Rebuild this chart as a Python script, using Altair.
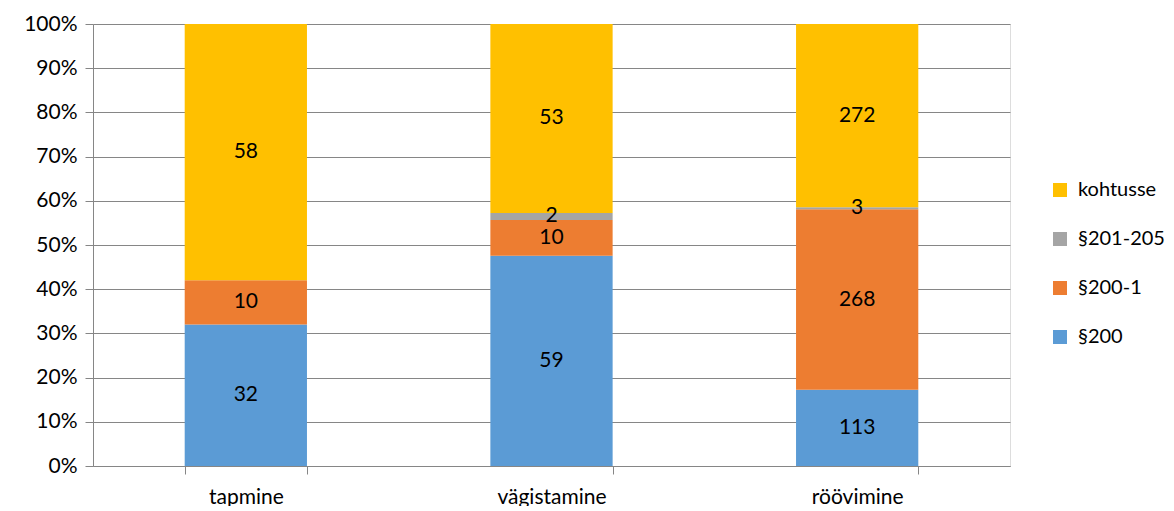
import altair as alt
import pandas as pd

categories = ["tapmine", "vägistamine", "röövimine"]
series = ["§200", "§200-1", "§201-205", "kohtusse"]
values = {
    "§200": [32, 59, 113],
    "§200-1": [10, 10, 268],
    "§201-205": [0, 2, 3],
    "kohtusse": [58, 53, 272],
}
colors = ["#5B9BD5", "#ED7D31", "#A5A5A5", "#FFC000"]
y_ticks = [0, 0.1, 0.2, 0.3, 0.4, 0.5, 0.6, 0.7, 0.8, 0.9, 1.0]

rows = []
for si, s in enumerate(series):
    for ci, c in enumerate(categories):
        rows.append({"cat": c, "series": s, "idx": si, "value": values[s][ci]})
df = pd.DataFrame(rows)

FONT = "Lato"
FS = 21
legend_order = list(reversed(series))
legend_colors = list(reversed(colors))

base = alt.Chart(df).transform_joinaggregate(
    total="sum(value)", groupby=["cat"]
).transform_calculate(
    pct="datum.value / datum.total"
).transform_stack(
    stack="pct", groupby=["cat"], as_=["y0", "y1"], sort=[alt.SortField("idx", order="ascending")]
).transform_calculate(
    mid="(datum.y0 + datum.y1) / 2"
)

x_enc = alt.X(
    "cat:N",
    sort=categories,
    title=None,
    scale=alt.Scale(paddingInner=0.6, paddingOuter=0.3),
    axis=alt.Axis(
        labelAngle=0, labelFontSize=FS, labelFont=FONT, labelColor="#000000",
        labelPadding=12, tickBand="extent", tickSize=8, tickColor="#868686",
        domainColor="#868686", grid=False,
    ),
)

bars = base.mark_bar().encode(
    x=x_enc,
    y=alt.Y(
        "y0:Q",
        scale=alt.Scale(domain=[0, 1], nice=False),
        title=None,
        axis=alt.Axis(
            values=y_ticks, format=".0%", labelFontSize=FS, labelFont=FONT,
            labelColor="#000000", labelPadding=8, tickSize=8, tickColor="#868686",
            domainColor="#868686", gridColor="#868686", gridWidth=1,
        ),
    ),
    y2="y1:Q",
    color=alt.Color(
        "series:N",
        scale=alt.Scale(domain=legend_order, range=legend_colors),
        legend=alt.Legend(
            title=None, orient="none", legendX=957, legendY=156,
            labelFontSize=20, labelFont=FONT, labelColor="#000000",
            symbolType="square", symbolSize=196, symbolStrokeWidth=0,
            rowPadding=29, labelOffset=8, padding=0, labelLimit=200,
        ),
    ),
    order=alt.Order("idx:Q"),
)

labels = base.transform_filter("datum.value > 0").mark_text(
    fontSize=FS, font=FONT, color="#000000", baseline="middle"
).encode(
    x=alt.X("cat:N", sort=categories),
    y=alt.Y("mid:Q"),
    text=alt.Text("value:Q"),
)

chart = alt.layer(bars, labels).properties(
    width=917, height=442,
    autosize=alt.AutoSizeParams(type="none"),
    padding={"left": 85, "top": 16, "right": 156, "bottom": 40},
).configure_view(stroke=None).configure(background="#ffffff")

chart.save("out.html", embed_options={"renderer": "svg", "actions": False})
